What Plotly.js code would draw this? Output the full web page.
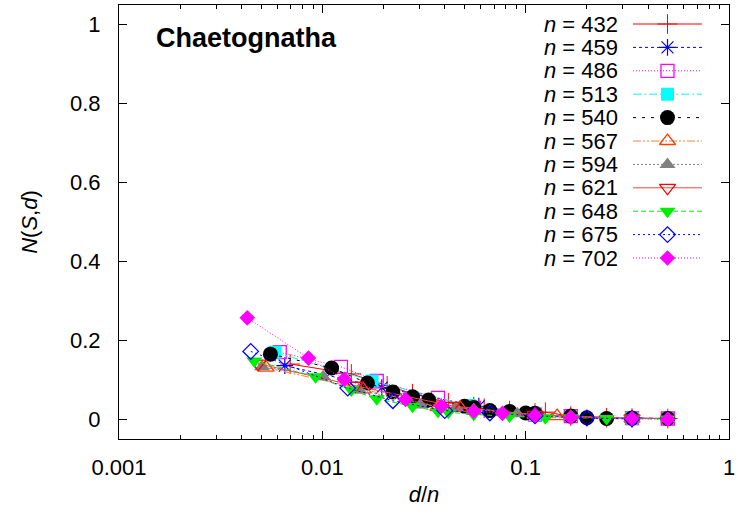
<!DOCTYPE html>
<html><head><meta charset="utf-8">
<script src="https://cdn.plot.ly/plotly-3.0.1.min.js"></script>
<style>html,body{margin:0;padding:0;background:#fff}#chart{width:738px;height:515px}</style>
</head><body><div id="chart"></div>
<script>
// system sizes n
const sizes = [432, 459, 486, 513, 540, 567, 594, 621, 648, 675, 702];
// distances d (x = d/n) and N(S,d) values
const d432 = [3, 6, 9, 12, 18, 24, 27, 36, 48, 54, 72, 108, 144, 216];
const v432 = [0.140, 0.115, 0.085, 0.065, 0.042, 0.032, 0.028, 0.022, 0.016, 0.018, 0.008, 0.004, 0.003, 0.002];
const d459 = [3, 9, 27, 51, 153];
const v459 = [0.136, 0.080, 0.033, 0.012, 0.003];
const d486 = [3, 6, 9, 18, 27, 54, 81, 162, 243];
const v486 = [0.170, 0.133, 0.097, 0.054, 0.029, 0.012, 0.008, 0.003, 0.002];
const d513 = [3, 9, 27, 57, 171];
const v513 = [0.170, 0.097, 0.035, 0.012, 0.003];
const d540 = [3, 6, 9, 12, 15, 18, 27, 30, 36, 45, 54, 60, 90, 108, 135, 180, 270];
const v540 = [0.165, 0.130, 0.092, 0.069, 0.057, 0.049, 0.033, 0.030, 0.022, 0.020, 0.016, 0.015, 0.008, 0.004, 0.002, 0.003, 0.002];
const d567 = [3, 9, 21, 27, 63, 81, 189];
const v567 = [0.131, 0.076, 0.031, 0.029, 0.012, 0.008, 0.002];
const d594 = [3, 6, 9, 18, 27, 33, 54, 66, 99, 198, 297];
const v594 = [0.133, 0.108, 0.075, 0.036, 0.030, 0.025, 0.014, 0.012, 0.007, 0.003, 0.001];
const d621 = [3, 9, 27, 69, 207];
const v621 = [0.141, 0.085, 0.034, 0.011, 0.002];
const d648 = [3, 6, 9, 12, 18, 24, 27, 36, 54, 72, 81, 108, 162, 216, 324];
const v648 = [0.148, 0.108, 0.074, 0.052, 0.033, 0.020, 0.018, 0.012, 0.008, 0.006, 0.004, 0.004, 0.002, 0.001, 0.001];
const d675 = [3, 9, 15, 27, 45, 75, 135, 225];
const v675 = [0.172, 0.079, 0.047, 0.022, 0.016, 0.009, 0.003, 0.001];
const d702 = [3, 6, 9, 18, 27, 39, 54, 78, 117, 234, 351];
const v702 = [0.257, 0.155, 0.1015, 0.050, 0.033, 0.0205, 0.015, 0.0095, 0.005, 0.002, 0.000];
// tick labels
const xTickVals = [0.001, 0.01, 0.1, 1];
const xTickText = ['0.001', '0.01', '0.1', '1'];
const yTickVals = [0, 0.2, 0.4, 0.6, 0.8, 1];
const yTickText = ['0', '0.2', '0.4', '0.6', '0.8', '1'];
const chartLabel = 'Chaetognatha';

const dists = [d432, d459, d486, d513, d540, d567, d594, d621, d648, d675, d702];
const vals = [v432, v459, v486, v513, v540, v567, v594, v621, v648, v675, v702];

const styles = [
  {lc: '#ff0000', dash: 'solid', sym: 'cross-thin-open', mc: '#ff0000', ms: 14, mlw: 1},
  {lc: '#0000ff', dash: '3px,3px', sym: 'asterisk-open', mc: '#0000ff', ms: 14, mlw: 1.2},
  {lc: '#ff00ff', dash: '1px,2px', sym: 'square-open', mc: '#ff00ff', ms: 13, mlw: 1.3},
  {lc: '#00ffff', dash: '8px,3px,2px,3px', sym: 'square', mc: '#00ffff', ms: 13, mlw: 0},
  {lc: '#000000', dash: '3px,6px', sym: 'circle', mc: '#000000', ms: 15, mlw: 0},
  {lc: '#ff8040', dash: '8px,2px,2px,2px,2px,2px', sym: 'triangle-up-open', mc: '#ff4000', ms: 14, mlw: 1.3},
  {lc: '#808080', dash: '2px,2px', sym: 'triangle-up', mc: '#808080', ms: 14, mlw: 0},
  {lc: '#ff4040', dash: 'solid', sym: 'triangle-down-open', mc: '#ff0000', ms: 14, mlw: 1.3},
  {lc: '#00ee00', dash: '5px,3px', sym: 'triangle-down', mc: '#00ee00', ms: 14, mlw: 0},
  {lc: '#0000ff', dash: '2px,3px', sym: 'diamond-open', mc: '#0000ff', ms: 12, mlw: 1.3},
  {lc: '#ff00ff', dash: '1px,2px', sym: 'diamond', mc: '#ff00ff', ms: 12, mlw: 0}
];

const FONT = 'Liberation Sans, Arial, Helvetica, sans-serif';
const traces = [];
sizes.forEach((n, i) => {
  const s = styles[i];
  traces.push({
    type: 'scatter', mode: 'lines+markers',
    x: dists[i].map(d => d / n), y: vals[i],
    line: {color: s.lc, width: 1, dash: s.dash},
    marker: {symbol: s.sym, size: s.ms, color: s.mc, line: {color: s.mc, width: s.mlw}},
    showlegend: false, name: 'n = ' + n, cliponaxis: false
  });
});

// gnuplot-style key: text on the left, sample on the right (overlay pixel axes)
const annotations = [{
  xref: 'paper', yref: 'paper', x: 0.058, y: 0.924, xanchor: 'left', yanchor: 'middle',
  text: '<b>' + chartLabel + '</b>', showarrow: false,
  font: {family: FONT, size: 27, color: '#000'}
}];
sizes.forEach((n, i) => {
  const s = styles[i];
  const ry = 19 + 23.4 * i;
  traces.push({
    type: 'scatter', mode: 'lines', xaxis: 'x2', yaxis: 'y2',
    x: [514, 583], y: [ry, ry], line: {color: s.lc, width: 1, dash: s.dash},
    showlegend: false, hoverinfo: 'skip'
  });
  traces.push({
    type: 'scatter', mode: 'markers', xaxis: 'x2', yaxis: 'y2',
    x: [548.5], y: [ry],
    marker: {symbol: s.sym, size: s.ms, color: s.mc, line: {color: s.mc, width: s.mlw}},
    showlegend: false, hoverinfo: 'skip'
  });
  annotations.push({
    xref: 'x2', yref: 'y2', x: 501, y: ry, xanchor: 'right', yanchor: 'middle',
    text: '<i>n</i> = ' + n, showarrow: false,
    font: {family: FONT, size: 22, color: '#000'}
  });
});

const minorVals = [];
[0.001, 0.01, 0.1].forEach(dec => { for (let k = 2; k <= 9; k++) minorVals.push(dec * k); });

const layout = {
  width: 738, height: 515,
  margin: {l: 119, r: 9, t: 5, b: 76},
  paper_bgcolor: '#fff', plot_bgcolor: '#fff',
  font: {family: FONT, size: 22, color: '#000'},
  showlegend: false,
  xaxis: {
    type: 'log', range: [-3, 0], tickmode: 'array', tickvals: xTickVals, ticktext: xTickText,
    ticks: 'inside', ticklen: 8, tickwidth: 1, tickcolor: '#000',
    showline: true, linecolor: '#000', linewidth: 1, mirror: 'allticks',
    showgrid: false, zeroline: false, ticklabelstandoff: 9,
    tickfont: {family: FONT, size: 22, color: '#000'},
    minor: {tickmode: 'array', tickvals: minorVals, ticks: 'inside', ticklen: 4, tickcolor: '#000', tickwidth: 1, showgrid: false},
    title: {text: '<i>d</i>/<i>n</i>', font: {family: FONT, size: 22, color: '#000'}, standoff: 7}
  },
  yaxis: {
    range: [-0.05, 1.05], tickmode: 'array', tickvals: yTickVals, ticktext: yTickText,
    ticks: 'inside', ticklen: 8, tickwidth: 1, tickcolor: '#000',
    showline: true, linecolor: '#000', linewidth: 1, mirror: 'allticks',
    showgrid: false, zeroline: false, ticklabelstandoff: 13,
    tickfont: {family: FONT, size: 22, color: '#000'},
    title: {text: '<i>N</i>(<i>S</i>,<i>d</i>)', font: {family: FONT, size: 22, color: '#000'}, standoff: 26}
  },
  xaxis2: {overlaying: 'x', anchor: 'y2', range: [0, 610], visible: false, fixedrange: true},
  yaxis2: {overlaying: 'y', anchor: 'x2', range: [434, 0], visible: false, fixedrange: true},
  annotations: annotations
};

Plotly.newPlot('chart', traces, layout, {displayModeBar: false, staticPlot: true});
</script>
</body></html>
